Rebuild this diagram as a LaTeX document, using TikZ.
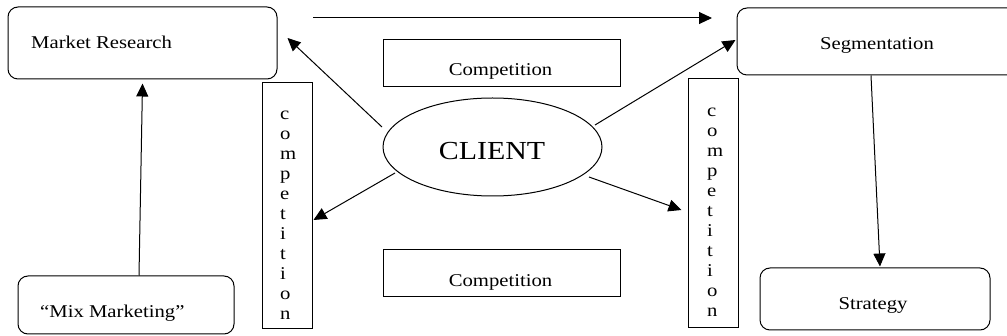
\documentclass[tikz,border=0pt]{standalone}
\usepackage{fontspec}
\setmainfont{Liberation Serif}[FakeStretch=1.15]
\usetikzlibrary{arrows.meta,shapes.geometric,calc}
\begin{document}
\begin{tikzpicture}[x=1pt,y=-1pt,
  lbl/.style={font=\fontsize{18}{20}\selectfont, inner sep=0pt, text=black},
  rbox/.style={draw, line width=1pt, rounded corners=10pt, inner sep=0pt},
  sbox/.style={draw, line width=1pt, inner sep=0pt},
  arr/.style={line width=1pt, -{Triangle[length=13pt,width=12pt]}}]
\clip (0,0) rectangle (1007,336);
% boxes
\node[rbox, minimum width=269pt, minimum height=72pt] (mr) at (142.5,43) {};
\node[rbox, minimum width=216pt, minimum height=58pt] (mix) at (126,305) {};
\node[sbox, minimum width=50pt, minimum height=246pt] (lc) at (287,206) {};
\node[sbox, minimum width=237pt, minimum height=47pt] (ct) at (501.5,63.5) {};
\node[sbox, minimum width=237pt, minimum height=47pt] (cb) at (501.5,273.5) {};
\node[draw, ellipse, line width=1pt, inner sep=0pt, minimum width=219pt, minimum height=98pt] (client) at (492.5,147) {};
\node[rbox, minimum width=283pt, minimum height=67pt] (seg) at (878.5,41.5) {};
\node[sbox, minimum width=50pt, minimum height=249pt] (rc) at (713,203.5) {};
\node[rbox, minimum width=230pt, minimum height=62pt] (strat) at (875,299) {};
% texts
\node[lbl, anchor=base west] (mrt) at (31,49) {Market Research};
\node[lbl, anchor=base west] (mixt) at (40,318) {“Mix Marketing”};
\node[lbl, anchor=base] (ctt) at (500.5,76) {Competition};
\node[lbl, anchor=base] (cbt) at (500.5,287) {Competition};
\node[lbl, anchor=base, font=\fontsize{26}{28}\selectfont] (clt) at (492,160) {CLIENT};
\node[lbl, anchor=base] (segt) at (877,50) {Segmentation};
\node[lbl, anchor=base] (strt) at (873,310) {Strategy};
\foreach \l [count=\i] in {c,o,m,p,e,t,i,t,i,o,n} {
  \node[lbl, anchor=base west] (lcl\i) at (280,99.5+20*\i) {\l};
  \node[lbl, anchor=base west] (rcl\i) at (707,96.5+20*\i) {\l};
}
% connectors
\coordinate (ta) at (313,18);
\coordinate (tb) at (712,18);
\draw[arr] (ta) -- (tb);
\draw[arr] ($(client.center)+(-110.5,-20)$) -- ($(mr.east)+(10,-5)$);
\draw[arr] ($(client.center)+(-97.5,26)$) -- ($(lc.east)+(1,14)$);
\draw[arr] ($(client.center)+(102.5,-22)$) -- ($(seg.west)+(-1,-1.5)$);
\draw[arr] ($(client.center)+(96.5,30)$) -- ($(rc.west)+(-6,6.5)$);
\draw[arr] ($(mix.north)+(13,0)$) -- ($(mr.south)+(0,4)$);
\draw[arr] ($(seg.south)+(-7.5,0)$) -- ($(strat.north)+(5,-1)$);
\end{tikzpicture}
\end{document}
